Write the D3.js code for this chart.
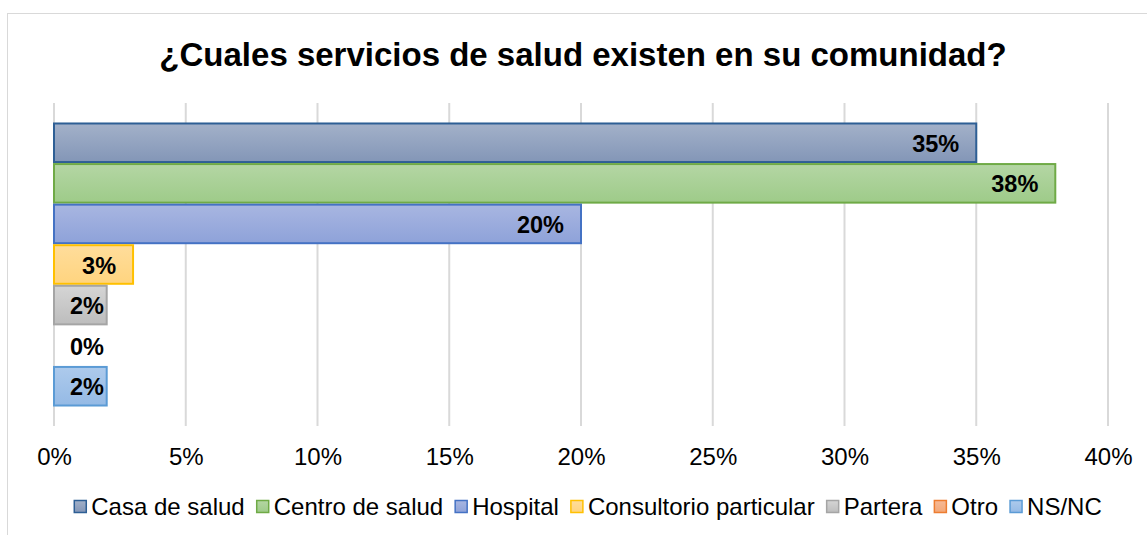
<!DOCTYPE html>
<html>
<head>
<meta charset="utf-8">
<script src="https://cdn.jsdelivr.net/npm/d3@7"></script>
<style>
    body { margin: 0; background: #fff; }
    text { font-family: "Liberation Sans", Arial, sans-serif; }
</style>
</head>
<body>
<svg id="chart"></svg>
<script>
// data
const title = "¿Cuales servicios de salud existen en su comunidad?";
const series = ["Casa de salud", "Centro de salud", "Hospital", "Consultorio particular", "Partera", "Otro", "NS/NC"];
const values = [35, 38, 20, 3, 2, 0, 2];
const ticks = [0, 5, 10, 15, 20, 25, 30, 35, 40];

// colours: [top, bottom, stroke]
const colors = [
    ["#a3b1c9", "#8396b7", "#2e5f95"],
    ["#b4d6a4", "#9ecb89", "#6faa46"],
    ["#a8b6e1", "#8ea2d9", "#4472c4"],
    ["#ffdd9b", "#ffd47f", "#ffc000"],
    ["#d5d5d5", "#bdbdbd", "#a5a5a5"],
    ["#f6b996", "#f3a878", "#ed7d31"],
    ["#adcaec", "#95bae5", "#5b9bd5"],
];

const width = 1147,
    height = 535;
const plot = { left: 54, right: 1108, top: 103, bottom: 426 };

const svg = d3.select("#chart").attr("width", width).attr("height", height);

const defs = svg.append("defs");
colors.forEach((c, i) => {
    const g = defs.append("linearGradient")
        .attr("id", "grad" + i)
        .attr("x1", 0).attr("y1", 0).attr("x2", 0).attr("y2", 1);
    g.append("stop").attr("offset", "0%").attr("stop-color", c[0]);
    g.append("stop").attr("offset", "100%").attr("stop-color", c[1]);
});

// chart border
svg.append("rect")
    .attr("x", 7.5).attr("y", 13.5)
    .attr("width", width).attr("height", height)
    .attr("fill", "none")
    .attr("stroke", "#d9d9d9")
    .attr("stroke-width", 1);

svg.append("text")
    .attr("x", 583)
    .attr("y", 66)
    .attr("text-anchor", "middle")
    .attr("font-size", "33px")
    .attr("font-weight", "bold")
    .attr("fill", "#000")
    .text(title);

const xScale = d3.scaleLinear().domain([0, 40]).range([plot.left, plot.right]);
const yScale = d3.scaleBand()
    .domain(series)
    .range([plot.top, plot.bottom])
    .paddingInner(0)
    .paddingOuter(0.48);

// gridlines
svg.append("g")
    .selectAll("line")
    .data(ticks)
    .enter()
    .append("line")
    .attr("x1", (d) => xScale(d))
    .attr("x2", (d) => xScale(d))
    .attr("y1", plot.top)
    .attr("y2", plot.bottom)
    .attr("stroke", "#d9d9d9")
    .attr("stroke-width", 2);

// x axis labels
const xAxis = d3.axisBottom(xScale)
    .tickValues(ticks)
    .tickFormat((d) => d + "%")
    .tickSize(0);

const axisG = svg.append("g")
    .attr("transform", `translate(0, ${plot.bottom})`)
    .call(xAxis);
axisG.select(".domain").remove();
axisG.selectAll("text")
    .attr("dy", null)
    .attr("y", 39)
    .attr("font-size", "24px")
    .attr("fill", "#000")
    .style("font-family", '"Liberation Sans", Arial, sans-serif');

// bars
const rows = series.map((s, i) => ({ name: s, value: values[i], i: i }));

svg.append("g")
    .selectAll("rect")
    .data(rows.filter((d) => d.value > 0))
    .enter()
    .append("rect")
    .attr("x", xScale(0))
    .attr("y", (d) => yScale(d.name) + 1)
    .attr("width", (d) => xScale(d.value) - xScale(0))
    .attr("height", yScale.bandwidth() - 2)
    .attr("fill", (d) => `url(#grad${d.i})`)
    .attr("stroke", (d) => colors[d.i][2])
    .attr("stroke-width", 2);

// data labels
svg.append("g")
    .selectAll("text")
    .data(rows)
    .enter()
    .append("text")
    .attr("y", (d) => yScale(d.name) + yScale.bandwidth() / 2 + 9)
    .attr("text-anchor", "end")
    .attr("font-size", "23.5px")
    .attr("font-weight", "bold")
    .attr("fill", "#000")
    .text((d) => d.value + "%")
    .attr("x", function (d) {
        const w = this.getComputedTextLength();
        return Math.max(xScale(d.value) - 17, xScale(0) + 16 + w);
    });

// legend
const legend = svg.append("g");
const items = legend.selectAll("g")
    .data(rows)
    .enter()
    .append("g");
items.append("rect")
    .attr("y", 0.5)
    .attr("width", 12)
    .attr("height", 12)
    .attr("fill", (d) => `url(#grad${d.i})`)
    .attr("stroke", (d) => colors[d.i][2])
    .attr("stroke-width", 1.5);
items.append("text")
    .attr("x", 17)
    .attr("y", 15)
    .attr("font-size", "24px")
    .attr("fill", "#000")
    .text((d) => d.name);

let offset = 0;
items.each(function () {
    const w = d3.select(this).select("text").node().getComputedTextLength();
    d3.select(this).attr("transform", `translate(${offset}, 0)`);
    offset += 17 + w + 12;
});
const total = offset - 12;
legend.attr("transform", `translate(${588 - total / 2}, 500)`);
</script>
</body>
</html>
